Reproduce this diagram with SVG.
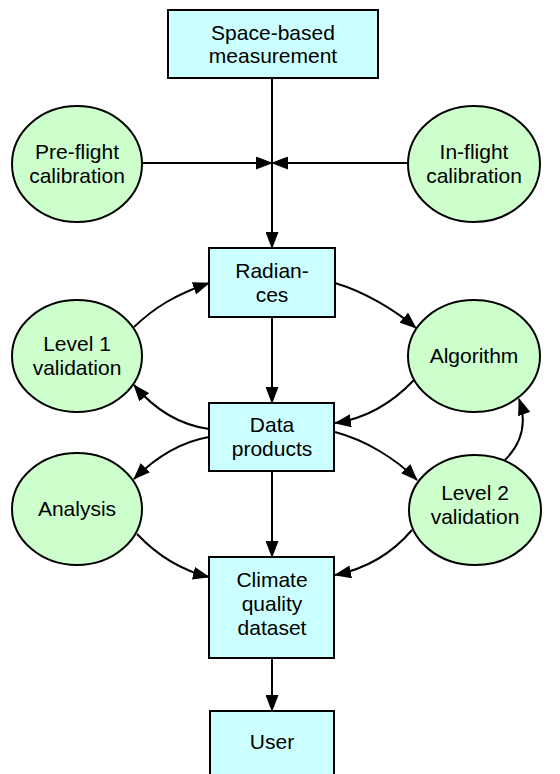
<svg xmlns="http://www.w3.org/2000/svg" width="560" height="774" viewBox="0 0 560 774">
<style>
.box{fill:#CCFFFF;stroke:#000;stroke-width:2}
.ell{fill:#CCFFCC;stroke:#000;stroke-width:2}
.t{font-family:"Liberation Sans",Arial,sans-serif;font-size:21px;fill:#000;text-anchor:middle}
.c{fill:none;stroke:#000;stroke-width:2;marker-end:url(#ah)}
</style>
<defs>
<marker id="ah" markerUnits="userSpaceOnUse" markerWidth="17" markerHeight="13" refX="16" refY="6.5" orient="auto">
<path d="M0,0 L17,6.5 L0,13 z" fill="#000"/>
</marker>
</defs>
<rect width="560" height="774" fill="#fff"/>
<g id="connectors">
<path class="c" d="M272,78 L272,248"/>
<path class="c" d="M143,163 L272,163"/>
<path class="c" d="M408,163 L272,163"/>
<path class="c" d="M272,317 L272,403"/>
<path class="c" d="M272,471 L272,557"/>
<path class="c" d="M272,658 L272,711"/>
<path class="c" d="M134,327 C155,307 175,295 209,283"/>
<path class="c" d="M335,283 C365,292 395,310 416,328"/>
<path class="c" d="M414,380 C395,400 370,418 335,423"/>
<path class="c" d="M209,429 C180,425 155,410 134,385"/>
<path class="c" d="M209,437 C180,442 155,458 134,479"/>
<path class="c" d="M335,432 C365,440 395,458 417,480"/>
<path class="c" d="M137,534 C155,553 180,570 209,577"/>
<path class="c" d="M412,530 C395,550 370,568 335,575"/>
<path class="c" d="M505,460 C520,445 528,425 519,399"/>
</g>
<g id="space">
<rect class="box" x="168" y="10" width="210" height="68"/>
<text class="t" x="273" y="40">Space-based</text>
<text class="t" x="273" y="63">measurement</text>
</g>
<g id="preflight">
<ellipse class="ell" cx="77" cy="164" rx="65" ry="58"/>
<text class="t" x="77" y="159">Pre-flight</text>
<text class="t" x="77" y="183">calibration</text>
</g>
<g id="inflight">
<ellipse class="ell" cx="474" cy="164" rx="66" ry="58"/>
<text class="t" x="474" y="159">In-flight</text>
<text class="t" x="474" y="183">calibration</text>
</g>
<g id="radiances">
<rect class="box" x="209" y="248" width="126" height="69"/>
<text class="t" x="272" y="278">Radian-</text>
<text class="t" x="272" y="302">ces</text>
</g>
<g id="level1">
<ellipse class="ell" cx="77" cy="356" rx="65" ry="56"/>
<text class="t" x="77" y="351">Level 1</text>
<text class="t" x="77" y="375">validation</text>
</g>
<g id="algorithm">
<ellipse class="ell" cx="474" cy="356" rx="66" ry="56"/>
<text class="t" x="474" y="363">Algorithm</text>
</g>
<g id="data">
<rect class="box" x="209" y="403" width="125" height="68"/>
<text class="t" x="272" y="432">Data</text>
<text class="t" x="272" y="456">products</text>
</g>
<g id="analysis">
<ellipse class="ell" cx="77" cy="509" rx="65" ry="56"/>
<text class="t" x="77" y="516">Analysis</text>
</g>
<g id="level2">
<ellipse class="ell" cx="475" cy="510" rx="66" ry="55"/>
<text class="t" x="475" y="500">Level 2</text>
<text class="t" x="475" y="524">validation</text>
</g>
<g id="climate">
<rect class="box" x="209" y="557" width="125" height="101"/>
<text class="t" x="272" y="587">Climate</text>
<text class="t" x="272" y="611">quality</text>
<text class="t" x="272" y="635">dataset</text>
</g>
<g id="user">
<rect class="box" x="210" y="711" width="124" height="70"/>
<text class="t" x="272" y="749">User</text>
</g>
</svg>
